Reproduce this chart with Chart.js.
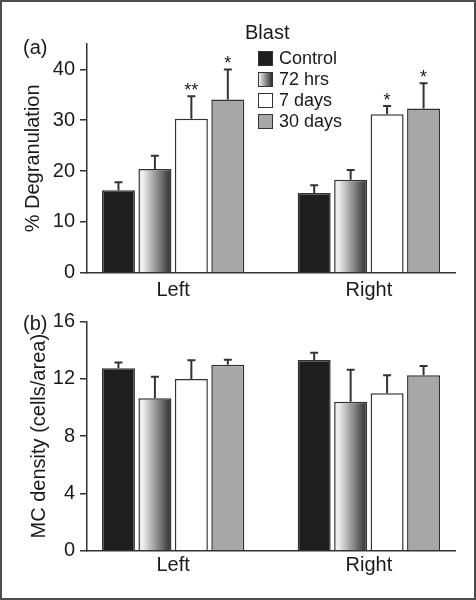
<!DOCTYPE html>
<html lang="en">
<head>
<meta charset="UTF-8">
<title>Blast: degranulation and MC density</title>
<style>
  body { margin: 0; background: #fff; font-family: "Liberation Sans", Arial, sans-serif; color: #1a1a1a; }
  #wrap { position: relative; width: 476px; height: 600px; overflow: hidden; background: #fff; }
  #wrap canvas { position: absolute; left: 0; }
  .lbl { position: absolute; font-size: 20px; line-height: 24px; white-space: nowrap; }
  #frame { position: absolute; left: 0; top: 0; width: 476px; height: 600px; box-sizing: border-box;
           border: 2px solid #4d4d4d; pointer-events: none; }
  .row { position: absolute; left: 258px; height: 21px; font-size: 18px; line-height: 21px; white-space: nowrap; }
  .sw { position: absolute; left: 0; top: 3px; width: 15px; height: 15px; box-sizing: border-box; border: 1.5px solid #333; }
  .tx { position: absolute; left: 21px; top: 0; }
</style>
</head>
<body>
<div id="wrap">
  <canvas id="chartA" width="476" height="300" style="top:0"></canvas>
  <canvas id="chartB" width="476" height="300" style="top:300px"></canvas>
  <div class="lbl" style="left:23px; top:35px;">(a)</div>
  <div class="lbl" style="left:23px; top:311px;">(b)</div>
  <div class="lbl" style="left:245px; top:20px;">Blast</div>
  <div id="legend"></div>
  <div id="frame"></div>
</div>

<script src="https://cdn.jsdelivr.net/npm/chart.js"></script>
<script>
// categories and series
const groups = ["Left", "Right"];
const seriesNames = ["Control", "72 hrs", "7 days", "30 days"];
const seriesFills = ["#1e1e1e", "gradient", "#ffffff", "#a7a7a7"];

// (a) % degranulation, mean and upper error
const degranControl = [16.2, 15.7];
const degran72h = [20.4, 18.3];
const degran7d = [30.3, 31.2];
const degran30d = [34.1, 32.3];
const degranErrControl = [1.6, 1.5];
const degranErr72h = [2.6, 1.9];
const degranErr7d = [4.4, 1.6];
const degranErr30d = [5.9, 5.0];
const degranStars72h = ["", ""];
const degranStarsControl = ["", ""];
const degranStars7d = ["**", "*"];
const degranStars30d = ["*", "*"];
const degranTicks = [0, 10, 20, 30, 40];

// (b) MC density, mean and upper error
const densityControl = [12.75, 13.33];
const density72h = [10.65, 10.4];
const density7d = [12.0, 11.0];
const density30d = [13.0, 12.25];
const densityErrControl = [0.4, 0.5];
const densityErr72h = [1.5, 2.25];
const densityErr7d = [1.3, 1.25];
const densityErr30d = [0.35, 0.65];
const densityTicks = [0, 4, 8, 12, 16];

const ink = "#1a1a1a";
const lineCol = "#333";
Chart.defaults.font.family = '"Liberation Sans", Arial, sans-serif';
Chart.defaults.color = ink;

// legend (html)
const legend = document.getElementById("legend");
seriesNames.forEach((name, i) => {
  const row = document.createElement("div");
  row.className = "row";
  row.style.top = (48 + i * 21) + "px";
  const sw = document.createElement("div");
  sw.className = "sw";
  sw.style.background = seriesFills[i] === "gradient"
    ? "linear-gradient(to right, #f0f0f0, #303030)" : seriesFills[i];
  const tx = document.createElement("div");
  tx.className = "tx";
  tx.textContent = name;
  row.appendChild(sw);
  row.appendChild(tx);
  legend.appendChild(row);
});

// gradient fill for the 72 hrs bars, once bar geometry is known
const gradientBars = {
  id: "gradientBars",
  beforeDatasetsDraw(chart) {
    const ctx = chart.ctx;
    chart.data.datasets.forEach((ds, di) => {
      if (ds.fillKind !== "gradient") return;
      chart.getDatasetMeta(di).data.forEach(bar => {
        const g = ctx.createLinearGradient(bar.x - bar.width / 2, 0, bar.x + bar.width / 2, 0);
        g.addColorStop(0, "#e2e2e2");
        g.addColorStop(0.12, "#f2f2f2");
        g.addColorStop(1, "#2c2c2c");
        bar.options = Object.assign({}, bar.options, { backgroundColor: g });
      });
    });
  }
};

// upper error bars and significance stars
const errorBars = {
  id: "errorBars",
  afterDatasetsDraw(chart) {
    const ctx = chart.ctx;
    const y = chart.scales.y;
    ctx.save();
    ctx.strokeStyle = lineCol;
    ctx.lineWidth = 2;
    ctx.fillStyle = ink;
    ctx.font = '18px "Liberation Sans", Arial, sans-serif';
    ctx.textAlign = "center";
    ctx.textBaseline = "alphabetic";
    chart.data.datasets.forEach((ds, di) => {
      chart.getDatasetMeta(di).data.forEach((bar, j) => {
        const top = y.getPixelForValue(ds.data[j].y + ds.err[j]);
        ctx.beginPath();
        ctx.moveTo(bar.x, bar.y);
        ctx.lineTo(bar.x, top);
        ctx.moveTo(bar.x - 4, top);
        ctx.lineTo(bar.x + 4, top);
        ctx.stroke();
        if (ds.stars && ds.stars[j]) ctx.fillText(ds.stars[j], bar.x, top);
      });
    });
    ctx.restore();
  }
};

function makeChart(id, values, errs, stars, ticks, yMax, yTitle, pad, yWidth, xHeight, xPad) {
  const datasets = values.map((vals, i) => ({
    label: seriesNames[i],
    data: vals.map((v, j) => ({ x: j, y: v })),
    backgroundColor: seriesFills[i] === "gradient" ? "#999" : seriesFills[i],
    fillKind: seriesFills[i],
    borderColor: lineCol,
    borderWidth: 1.5,
    err: errs[i],
    stars: stars ? stars[i] : null,
    categoryPercentage: 0.745,
    barPercentage: 0.905
  }));

  return new Chart(document.getElementById(id), {
    type: "bar",
    data: { datasets },
    plugins: [gradientBars, errorBars],
    options: {
      responsive: false,
      animation: false,
      events: [],
      layout: { padding: pad },
      plugins: { legend: { display: false }, tooltip: { enabled: false } },
      scales: {
        x: {
          type: "linear",
          min: -0.44,
          max: 1.44,
          offset: false,
          grid: { display: false, drawTicks: false },
          border: { display: true, color: lineCol, width: 1.5 },
          afterBuildTicks: s => { s.ticks = groups.map((g, i) => ({ value: i })); },
          afterFit: s => { s.height = xHeight; },
          ticks: {
            callback: v => groups[v],
            font: { size: 20 },
            color: ink,
            padding: xPad,
            maxRotation: 0,
            autoSkip: false
          }
        },
        y: {
          min: 0,
          max: yMax,
          afterBuildTicks: s => { s.ticks = ticks.map(v => ({ value: v })); },
          afterFit: s => { s.width = yWidth; },
          grid: { drawOnChartArea: false, drawTicks: true, tickLength: 7, color: lineCol, lineWidth: 1.5 },
          border: { display: true, color: lineCol, width: 1.5 },
          ticks: { font: { size: 20 }, color: ink, padding: 5 },
          title: {
            display: true,
            text: yTitle,
            font: { size: 20 },
            color: ink,
            padding: { top: 0, bottom: 0 }
          }
        }
      }
    }
  });
}

makeChart(
  "chartA",
  [degranControl, degran72h, degran7d, degran30d],
  [degranErrControl, degranErr72h, degranErr7d, degranErr30d],
  [degranStarsControl, degranStars72h, degranStars7d, degranStars30d],
  degranTicks, 45, "% Degranulation",
  { left: 21, top: 44, right: 21, bottom: 0 }, 66, 27.3, 6
);

makeChart(
  "chartB",
  [densityControl, density72h, density7d, density30d],
  [densityErrControl, densityErr72h, densityErr7d, densityErr30d],
  null,
  densityTicks, 16, "MC density (cells/area)",
  { left: 27, top: 21.7, right: 21, bottom: 0 }, 60, 49.3, 3
);
</script>
</body>
</html>
